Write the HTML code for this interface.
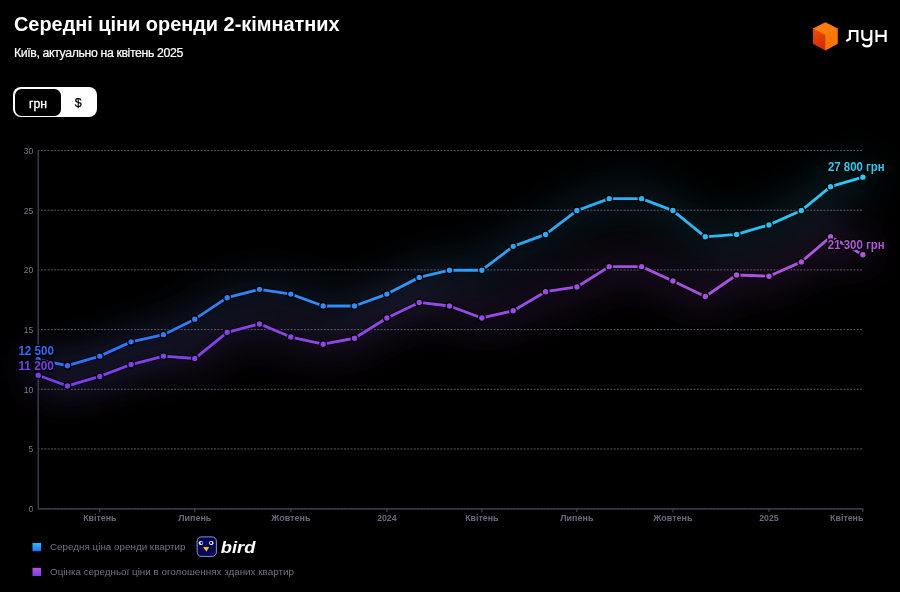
<!DOCTYPE html>
<html><head><meta charset="utf-8"><style>
html,body{margin:0;padding:0;background:#000;}
body{width:900px;height:592px;overflow:hidden;position:relative;font-family:"Liberation Sans",sans-serif;}
svg{position:absolute;left:0;top:0;}
.t,.s,.lg,svg{will-change:transform;}
.t{position:absolute;left:14px;top:15.1px;color:#fff;font-weight:bold;font-size:19.9px;white-space:nowrap;line-height:1;}
.s{position:absolute;left:14px;top:46.7px;color:#fff;font-size:12.3px;letter-spacing:-0.37px;-webkit-text-stroke:0.2px #fff;white-space:nowrap;line-height:1;}
.tg{position:absolute;left:13.3px;top:87.3px;width:83.4px;height:30.1px;box-sizing:border-box;background:#fff;border-radius:8px;}
.tg .a{position:absolute;left:1.4px;top:1.4px;width:46.6px;height:27.3px;box-sizing:border-box;background:#000;border-radius:6.5px;color:#fff;font-size:12.2px;text-align:center;line-height:30.3px;-webkit-text-stroke:0.3px #fff;}
.tg .b{position:absolute;left:48px;top:1.4px;width:34px;height:27.2px;color:#000;font-size:12.4px;text-align:center;line-height:29px;-webkit-text-stroke:0.25px #000;}
.lg{position:absolute;left:49.7px;color:#707384;font-size:9.85px;white-space:nowrap;line-height:1;}
.yl{font-size:9.6px;fill:#7a7d8c;text-anchor:end;font-family:"Liberation Sans",sans-serif;}
.xl{font-size:9.5px;fill:#666a7c;font-weight:bold;font-family:"Liberation Sans",sans-serif;}
.vl{font-size:12px;font-weight:bold;stroke:#000;stroke-width:3.2;paint-order:stroke;stroke-linejoin:round;font-family:"Liberation Sans",sans-serif;}
.lun{font-size:21px;fill:#fff;font-family:"Liberation Sans",sans-serif;}
.bird{font-size:17px;fill:#fff;font-weight:bold;font-style:italic;font-family:"Liberation Sans",sans-serif;}
</style></head><body>
<svg width="900" height="592" viewBox="0 0 900 592">
<defs>
<linearGradient id="gb" gradientUnits="userSpaceOnUse" x1="38.2" y1="0" x2="862.9" y2="0"><stop offset="0" stop-color="#2f6bff"/><stop offset="1" stop-color="#22cff5"/></linearGradient>
<linearGradient id="gp" gradientUnits="userSpaceOnUse" x1="38.2" y1="0" x2="862.9" y2="0"><stop offset="0" stop-color="#7a3cf0"/><stop offset="1" stop-color="#b455e0"/></linearGradient>
<linearGradient id="ggb" gradientUnits="userSpaceOnUse" x1="38.2" y1="0" x2="862.9" y2="0"><stop offset="0" stop-color="#4a6ac8"/><stop offset="1" stop-color="#30b8e0"/></linearGradient>
<linearGradient id="ggp" gradientUnits="userSpaceOnUse" x1="38.2" y1="0" x2="862.9" y2="0"><stop offset="0" stop-color="#7050b8"/><stop offset="1" stop-color="#a050c8"/></linearGradient>
<filter id="blur" x="-20%" y="-50%" width="140%" height="200%"><feGaussianBlur stdDeviation="20"/></filter>
<linearGradient id="lgb" x1="0" y1="0" x2="0" y2="1"><stop offset="0" stop-color="#1fc2f5"/><stop offset="1" stop-color="#2f6bff"/></linearGradient>
<linearGradient id="lgp" x1="0" y1="0" x2="0" y2="1"><stop offset="0" stop-color="#b455e0"/><stop offset="1" stop-color="#7a3cf0"/></linearGradient>
<linearGradient id="cubeL" x1="0" y1="0" x2="0.3" y2="1"><stop offset="0" stop-color="#f24c04"/><stop offset="1" stop-color="#d82c02"/></linearGradient><linearGradient id="cubeR" x1="0" y1="0" x2="0" y2="1"><stop offset="0" stop-color="#ff7a00"/><stop offset="1" stop-color="#ff7000"/></linearGradient>
</defs>
<g filter="url(#blur)"><polyline points="38.20,359.73 67.43,365.70 99.79,356.15 131.11,341.83 163.47,334.67 194.79,319.16 227.15,297.68 259.51,289.33 290.83,294.10 323.19,306.03 354.51,306.03 386.87,294.10 419.23,277.39 449.51,270.23 481.87,270.23 513.19,246.37 545.55,234.43 576.86,210.57 609.23,198.63 641.59,198.63 672.91,210.57 705.27,236.82 736.59,234.43 768.95,224.89 801.31,210.57 830.54,186.70 862.90,177.15" fill="none" stroke="url(#ggb)" stroke-opacity="0.24" stroke-width="20" stroke-linejoin="round" stroke-linecap="round"/><polyline points="38.20,375.25 67.43,385.99 99.79,376.44 131.11,364.51 163.47,356.15 194.79,358.54 227.15,332.29 259.51,323.93 290.83,337.06 323.19,344.22 354.51,338.25 386.87,317.97 419.23,302.45 449.51,306.03 481.87,317.97 513.19,310.81 545.55,291.71 576.86,286.94 609.23,266.65 641.59,266.65 672.91,280.97 705.27,296.49 736.59,275.01 768.95,276.20 801.31,261.88 830.54,236.82 862.90,254.72" fill="none" stroke="url(#ggp)" stroke-opacity="0.28" stroke-width="20" stroke-linejoin="round" stroke-linecap="round"/></g>
<line x1="38.2" y1="508.60" x2="862.9" y2="508.60" stroke="#5a5c68" stroke-width="1" stroke-dasharray="2 1.33" stroke-dashoffset="0.67"/>
<text x="33.2" y="512.00" class="yl" textLength="4.4" lengthAdjust="spacingAndGlyphs">0</text>
<line x1="38.2" y1="448.93" x2="862.9" y2="448.93" stroke="#5a5c68" stroke-width="1" stroke-dasharray="2 1.33" stroke-dashoffset="0.67"/>
<text x="33.2" y="452.33" class="yl" textLength="4.4" lengthAdjust="spacingAndGlyphs">5</text>
<line x1="38.2" y1="389.27" x2="862.9" y2="389.27" stroke="#5a5c68" stroke-width="1" stroke-dasharray="2 1.33" stroke-dashoffset="0.67"/>
<text x="33.2" y="392.67" class="yl" textLength="9.5" lengthAdjust="spacingAndGlyphs">10</text>
<line x1="38.2" y1="329.60" x2="862.9" y2="329.60" stroke="#5a5c68" stroke-width="1" stroke-dasharray="2 1.33" stroke-dashoffset="0.67"/>
<text x="33.2" y="333.00" class="yl" textLength="9.5" lengthAdjust="spacingAndGlyphs">15</text>
<line x1="38.2" y1="269.93" x2="862.9" y2="269.93" stroke="#5a5c68" stroke-width="1" stroke-dasharray="2 1.33" stroke-dashoffset="0.67"/>
<text x="33.2" y="273.33" class="yl" textLength="9.5" lengthAdjust="spacingAndGlyphs">20</text>
<line x1="38.2" y1="210.27" x2="862.9" y2="210.27" stroke="#5a5c68" stroke-width="1" stroke-dasharray="2 1.33" stroke-dashoffset="0.67"/>
<text x="33.2" y="213.67" class="yl" textLength="9.5" lengthAdjust="spacingAndGlyphs">25</text>
<line x1="38.2" y1="150.60" x2="862.9" y2="150.60" stroke="#5a5c68" stroke-width="1" stroke-dasharray="2 1.33" stroke-dashoffset="0.67"/>
<text x="33.2" y="154.00" class="yl" textLength="9.5" lengthAdjust="spacingAndGlyphs">30</text>
<line x1="38.2" y1="150.60" x2="38.2" y2="509.20" stroke="#363844" stroke-width="1.6"/>
<line x1="38.2" y1="509.00" x2="863.4" y2="509.00" stroke="#363844" stroke-width="1.4"/>
<line x1="99.79" y1="508.60" x2="99.79" y2="512.10" stroke="#4a4c58" stroke-width="1"/>
<text x="99.79" y="520.8" class="xl" text-anchor="middle" textLength="33.3" lengthAdjust="spacingAndGlyphs">Квітень</text>
<line x1="194.79" y1="508.60" x2="194.79" y2="512.10" stroke="#4a4c58" stroke-width="1"/>
<text x="194.79" y="520.8" class="xl" text-anchor="middle" textLength="33.2" lengthAdjust="spacingAndGlyphs">Липень</text>
<line x1="290.83" y1="508.60" x2="290.83" y2="512.10" stroke="#4a4c58" stroke-width="1"/>
<text x="290.83" y="520.8" class="xl" text-anchor="middle" textLength="39.2" lengthAdjust="spacingAndGlyphs">Жовтень</text>
<line x1="386.87" y1="508.60" x2="386.87" y2="512.10" stroke="#4a4c58" stroke-width="1"/>
<text x="386.87" y="520.8" class="xl" text-anchor="middle" textLength="19.4" lengthAdjust="spacingAndGlyphs">2024</text>
<line x1="481.87" y1="508.60" x2="481.87" y2="512.10" stroke="#4a4c58" stroke-width="1"/>
<text x="481.87" y="520.8" class="xl" text-anchor="middle" textLength="33.3" lengthAdjust="spacingAndGlyphs">Квітень</text>
<line x1="576.86" y1="508.60" x2="576.86" y2="512.10" stroke="#4a4c58" stroke-width="1"/>
<text x="576.86" y="520.8" class="xl" text-anchor="middle" textLength="33.2" lengthAdjust="spacingAndGlyphs">Липень</text>
<line x1="672.91" y1="508.60" x2="672.91" y2="512.10" stroke="#4a4c58" stroke-width="1"/>
<text x="672.91" y="520.8" class="xl" text-anchor="middle" textLength="39.2" lengthAdjust="spacingAndGlyphs">Жовтень</text>
<line x1="768.95" y1="508.60" x2="768.95" y2="512.10" stroke="#4a4c58" stroke-width="1"/>
<text x="768.95" y="520.8" class="xl" text-anchor="middle" textLength="19.4" lengthAdjust="spacingAndGlyphs">2025</text>
<line x1="862.90" y1="508.60" x2="862.90" y2="512.10" stroke="#4a4c58" stroke-width="1"/>
<text x="863.40" y="520.8" class="xl" text-anchor="end" textLength="33.3" lengthAdjust="spacingAndGlyphs">Квітень</text>
<polyline points="38.20,359.73 67.43,365.70 99.79,356.15 131.11,341.83 163.47,334.67 194.79,319.16 227.15,297.68 259.51,289.33 290.83,294.10 323.19,306.03 354.51,306.03 386.87,294.10 419.23,277.39 449.51,270.23 481.87,270.23 513.19,246.37 545.55,234.43 576.86,210.57 609.23,198.63 641.59,198.63 672.91,210.57 705.27,236.82 736.59,234.43 768.95,224.89 801.31,210.57 830.54,186.70 862.90,177.15" fill="none" stroke="#000" stroke-opacity="0.6" stroke-width="4.9" stroke-linejoin="round"/>
<polyline points="38.20,359.73 67.43,365.70 99.79,356.15 131.11,341.83 163.47,334.67 194.79,319.16 227.15,297.68 259.51,289.33 290.83,294.10 323.19,306.03 354.51,306.03 386.87,294.10 419.23,277.39 449.51,270.23 481.87,270.23 513.19,246.37 545.55,234.43 576.86,210.57 609.23,198.63 641.59,198.63 672.91,210.57 705.27,236.82 736.59,234.43 768.95,224.89 801.31,210.57 830.54,186.70 862.90,177.15" fill="none" stroke="url(#gb)" stroke-width="2.85" stroke-linejoin="round"/>
<polyline points="38.20,375.25 67.43,385.99 99.79,376.44 131.11,364.51 163.47,356.15 194.79,358.54 227.15,332.29 259.51,323.93 290.83,337.06 323.19,344.22 354.51,338.25 386.87,317.97 419.23,302.45 449.51,306.03 481.87,317.97 513.19,310.81 545.55,291.71 576.86,286.94 609.23,266.65 641.59,266.65 672.91,280.97 705.27,296.49 736.59,275.01 768.95,276.20 801.31,261.88 830.54,236.82 862.90,254.72" fill="none" stroke="#000" stroke-opacity="0.6" stroke-width="4.9" stroke-linejoin="round"/>
<polyline points="38.20,375.25 67.43,385.99 99.79,376.44 131.11,364.51 163.47,356.15 194.79,358.54 227.15,332.29 259.51,323.93 290.83,337.06 323.19,344.22 354.51,338.25 386.87,317.97 419.23,302.45 449.51,306.03 481.87,317.97 513.19,310.81 545.55,291.71 576.86,286.94 609.23,266.65 641.59,266.65 672.91,280.97 705.27,296.49 736.59,275.01 768.95,276.20 801.31,261.88 830.54,236.82 862.90,254.72" fill="none" stroke="url(#gp)" stroke-width="2.85" stroke-linejoin="round"/>
<circle cx="38.20" cy="359.73" r="3.35" fill="url(#gb)" stroke="#000" stroke-width="1.3"/>
<circle cx="67.43" cy="365.70" r="3.35" fill="url(#gb)" stroke="#000" stroke-width="1.3"/>
<circle cx="99.79" cy="356.15" r="3.35" fill="url(#gb)" stroke="#000" stroke-width="1.3"/>
<circle cx="131.11" cy="341.83" r="3.35" fill="url(#gb)" stroke="#000" stroke-width="1.3"/>
<circle cx="163.47" cy="334.67" r="3.35" fill="url(#gb)" stroke="#000" stroke-width="1.3"/>
<circle cx="194.79" cy="319.16" r="3.35" fill="url(#gb)" stroke="#000" stroke-width="1.3"/>
<circle cx="227.15" cy="297.68" r="3.35" fill="url(#gb)" stroke="#000" stroke-width="1.3"/>
<circle cx="259.51" cy="289.33" r="3.35" fill="url(#gb)" stroke="#000" stroke-width="1.3"/>
<circle cx="290.83" cy="294.10" r="3.35" fill="url(#gb)" stroke="#000" stroke-width="1.3"/>
<circle cx="323.19" cy="306.03" r="3.35" fill="url(#gb)" stroke="#000" stroke-width="1.3"/>
<circle cx="354.51" cy="306.03" r="3.35" fill="url(#gb)" stroke="#000" stroke-width="1.3"/>
<circle cx="386.87" cy="294.10" r="3.35" fill="url(#gb)" stroke="#000" stroke-width="1.3"/>
<circle cx="419.23" cy="277.39" r="3.35" fill="url(#gb)" stroke="#000" stroke-width="1.3"/>
<circle cx="449.51" cy="270.23" r="3.35" fill="url(#gb)" stroke="#000" stroke-width="1.3"/>
<circle cx="481.87" cy="270.23" r="3.35" fill="url(#gb)" stroke="#000" stroke-width="1.3"/>
<circle cx="513.19" cy="246.37" r="3.35" fill="url(#gb)" stroke="#000" stroke-width="1.3"/>
<circle cx="545.55" cy="234.43" r="3.35" fill="url(#gb)" stroke="#000" stroke-width="1.3"/>
<circle cx="576.86" cy="210.57" r="3.35" fill="url(#gb)" stroke="#000" stroke-width="1.3"/>
<circle cx="609.23" cy="198.63" r="3.35" fill="url(#gb)" stroke="#000" stroke-width="1.3"/>
<circle cx="641.59" cy="198.63" r="3.35" fill="url(#gb)" stroke="#000" stroke-width="1.3"/>
<circle cx="672.91" cy="210.57" r="3.35" fill="url(#gb)" stroke="#000" stroke-width="1.3"/>
<circle cx="705.27" cy="236.82" r="3.35" fill="url(#gb)" stroke="#000" stroke-width="1.3"/>
<circle cx="736.59" cy="234.43" r="3.35" fill="url(#gb)" stroke="#000" stroke-width="1.3"/>
<circle cx="768.95" cy="224.89" r="3.35" fill="url(#gb)" stroke="#000" stroke-width="1.3"/>
<circle cx="801.31" cy="210.57" r="3.35" fill="url(#gb)" stroke="#000" stroke-width="1.3"/>
<circle cx="830.54" cy="186.70" r="3.35" fill="url(#gb)" stroke="#000" stroke-width="1.3"/>
<circle cx="862.90" cy="177.15" r="3.35" fill="url(#gb)" stroke="#000" stroke-width="1.3"/>
<circle cx="38.20" cy="375.25" r="3.35" fill="url(#gp)" stroke="#000" stroke-width="1.3"/>
<circle cx="67.43" cy="385.99" r="3.35" fill="url(#gp)" stroke="#000" stroke-width="1.3"/>
<circle cx="99.79" cy="376.44" r="3.35" fill="url(#gp)" stroke="#000" stroke-width="1.3"/>
<circle cx="131.11" cy="364.51" r="3.35" fill="url(#gp)" stroke="#000" stroke-width="1.3"/>
<circle cx="163.47" cy="356.15" r="3.35" fill="url(#gp)" stroke="#000" stroke-width="1.3"/>
<circle cx="194.79" cy="358.54" r="3.35" fill="url(#gp)" stroke="#000" stroke-width="1.3"/>
<circle cx="227.15" cy="332.29" r="3.35" fill="url(#gp)" stroke="#000" stroke-width="1.3"/>
<circle cx="259.51" cy="323.93" r="3.35" fill="url(#gp)" stroke="#000" stroke-width="1.3"/>
<circle cx="290.83" cy="337.06" r="3.35" fill="url(#gp)" stroke="#000" stroke-width="1.3"/>
<circle cx="323.19" cy="344.22" r="3.35" fill="url(#gp)" stroke="#000" stroke-width="1.3"/>
<circle cx="354.51" cy="338.25" r="3.35" fill="url(#gp)" stroke="#000" stroke-width="1.3"/>
<circle cx="386.87" cy="317.97" r="3.35" fill="url(#gp)" stroke="#000" stroke-width="1.3"/>
<circle cx="419.23" cy="302.45" r="3.35" fill="url(#gp)" stroke="#000" stroke-width="1.3"/>
<circle cx="449.51" cy="306.03" r="3.35" fill="url(#gp)" stroke="#000" stroke-width="1.3"/>
<circle cx="481.87" cy="317.97" r="3.35" fill="url(#gp)" stroke="#000" stroke-width="1.3"/>
<circle cx="513.19" cy="310.81" r="3.35" fill="url(#gp)" stroke="#000" stroke-width="1.3"/>
<circle cx="545.55" cy="291.71" r="3.35" fill="url(#gp)" stroke="#000" stroke-width="1.3"/>
<circle cx="576.86" cy="286.94" r="3.35" fill="url(#gp)" stroke="#000" stroke-width="1.3"/>
<circle cx="609.23" cy="266.65" r="3.35" fill="url(#gp)" stroke="#000" stroke-width="1.3"/>
<circle cx="641.59" cy="266.65" r="3.35" fill="url(#gp)" stroke="#000" stroke-width="1.3"/>
<circle cx="672.91" cy="280.97" r="3.35" fill="url(#gp)" stroke="#000" stroke-width="1.3"/>
<circle cx="705.27" cy="296.49" r="3.35" fill="url(#gp)" stroke="#000" stroke-width="1.3"/>
<circle cx="736.59" cy="275.01" r="3.35" fill="url(#gp)" stroke="#000" stroke-width="1.3"/>
<circle cx="768.95" cy="276.20" r="3.35" fill="url(#gp)" stroke="#000" stroke-width="1.3"/>
<circle cx="801.31" cy="261.88" r="3.35" fill="url(#gp)" stroke="#000" stroke-width="1.3"/>
<circle cx="830.54" cy="236.82" r="3.35" fill="url(#gp)" stroke="#000" stroke-width="1.3"/>
<circle cx="862.90" cy="254.72" r="3.35" fill="url(#gp)" stroke="#000" stroke-width="1.3"/>
<text x="18.4" y="354.5" class="vl" fill="#2f6bff" textLength="35.5" lengthAdjust="spacingAndGlyphs">12 500</text>
<text x="18.4" y="369.6" class="vl" fill="#7a3cf0" textLength="35.5" lengthAdjust="spacingAndGlyphs">11 200</text>
<text x="828" y="171.2" class="vl" fill="#22cff5" textLength="56.6" lengthAdjust="spacingAndGlyphs">27 800 грн</text>
<text x="827.8" y="249.1" class="vl" fill="#b455e0" textLength="56.8" lengthAdjust="spacingAndGlyphs">21 300 грн</text>
<g>
<polygon points="825.4,22.2 837.8,28.4 825.4,35.1 813,28.4" fill="#ff7c0c"/>
<polygon points="813,28.4 825.4,35.1 825.4,50.5 813,43.8" fill="url(#cubeL)"/>
<polygon points="825.4,35.1 837.8,28.4 837.8,43.8 825.4,50.5" fill="url(#cubeR)"/>
<polyline points="813,28.4 825.4,35.1 837.8,28.4" fill="none" stroke="#ffb000" stroke-width="0.6" opacity="0.7"/>
<line x1="825.4" y1="35.1" x2="825.4" y2="50.5" stroke="#ffa000" stroke-width="0.6" opacity="0.7"/>
</g>
<g fill="none" stroke="#fff" stroke-width="2.2" stroke-linejoin="miter"><path d="M846.2,41.1 L849.9,38.8 V31 H857.4 V41.9"/><path d="M862.3,29.9 V35.5 C862.3,38.6 864.3,40 866.8,40 C869.3,40 871.3,38.4 871.3,35.5 M871.3,29.9 V42 C871.3,44.9 869.3,46.4 866.8,46.4 C865,46.4 863.5,45.4 862.8,43.8"/><path d="M876.5,29.9 V41.9 M885.6,29.9 V41.9 M876.5,35.8 H885.6"/></g>
<rect x="32.5" y="543" width="8.5" height="8.2" fill="url(#lgb)"/>
<rect x="32.5" y="567.8" width="8.5" height="8.2" fill="url(#lgp)"/>
<g>
<rect x="197.1" y="536.9" width="19.3" height="19.5" rx="4.2" fill="#05055a" stroke="#a4a4c8" stroke-width="0.9"/>
<ellipse cx="200.9" cy="543" rx="2.3" ry="1.9" fill="#fff"/>
<ellipse cx="211.3" cy="543" rx="2.3" ry="1.9" fill="#fff"/>
<circle cx="201.5" cy="542.9" r="1.15" fill="#05055a"/>
<circle cx="211.0" cy="542.9" r="1.15" fill="#05055a"/>
<polygon points="203.1,547 209.1,547 206.5,551.8" fill="#fcc000"/>
</g>
<text x="220.8" y="553.3" class="bird" textLength="34.6" lengthAdjust="spacingAndGlyphs">bird</text>
</svg>
<div class="t">Середні ціни оренди 2-кімнатних</div>
<div class="s">Київ, актуально на квітень 2025</div>
<div class="tg"><div class="a">грн</div><div class="b">$</div></div>
<div class="lg" style="top:542px">Середня ціна оренди квартир</div>
<div class="lg" style="top:567px">Оцінка середньої ціни в оголошеннях зданих квартир</div>
</body></html>
